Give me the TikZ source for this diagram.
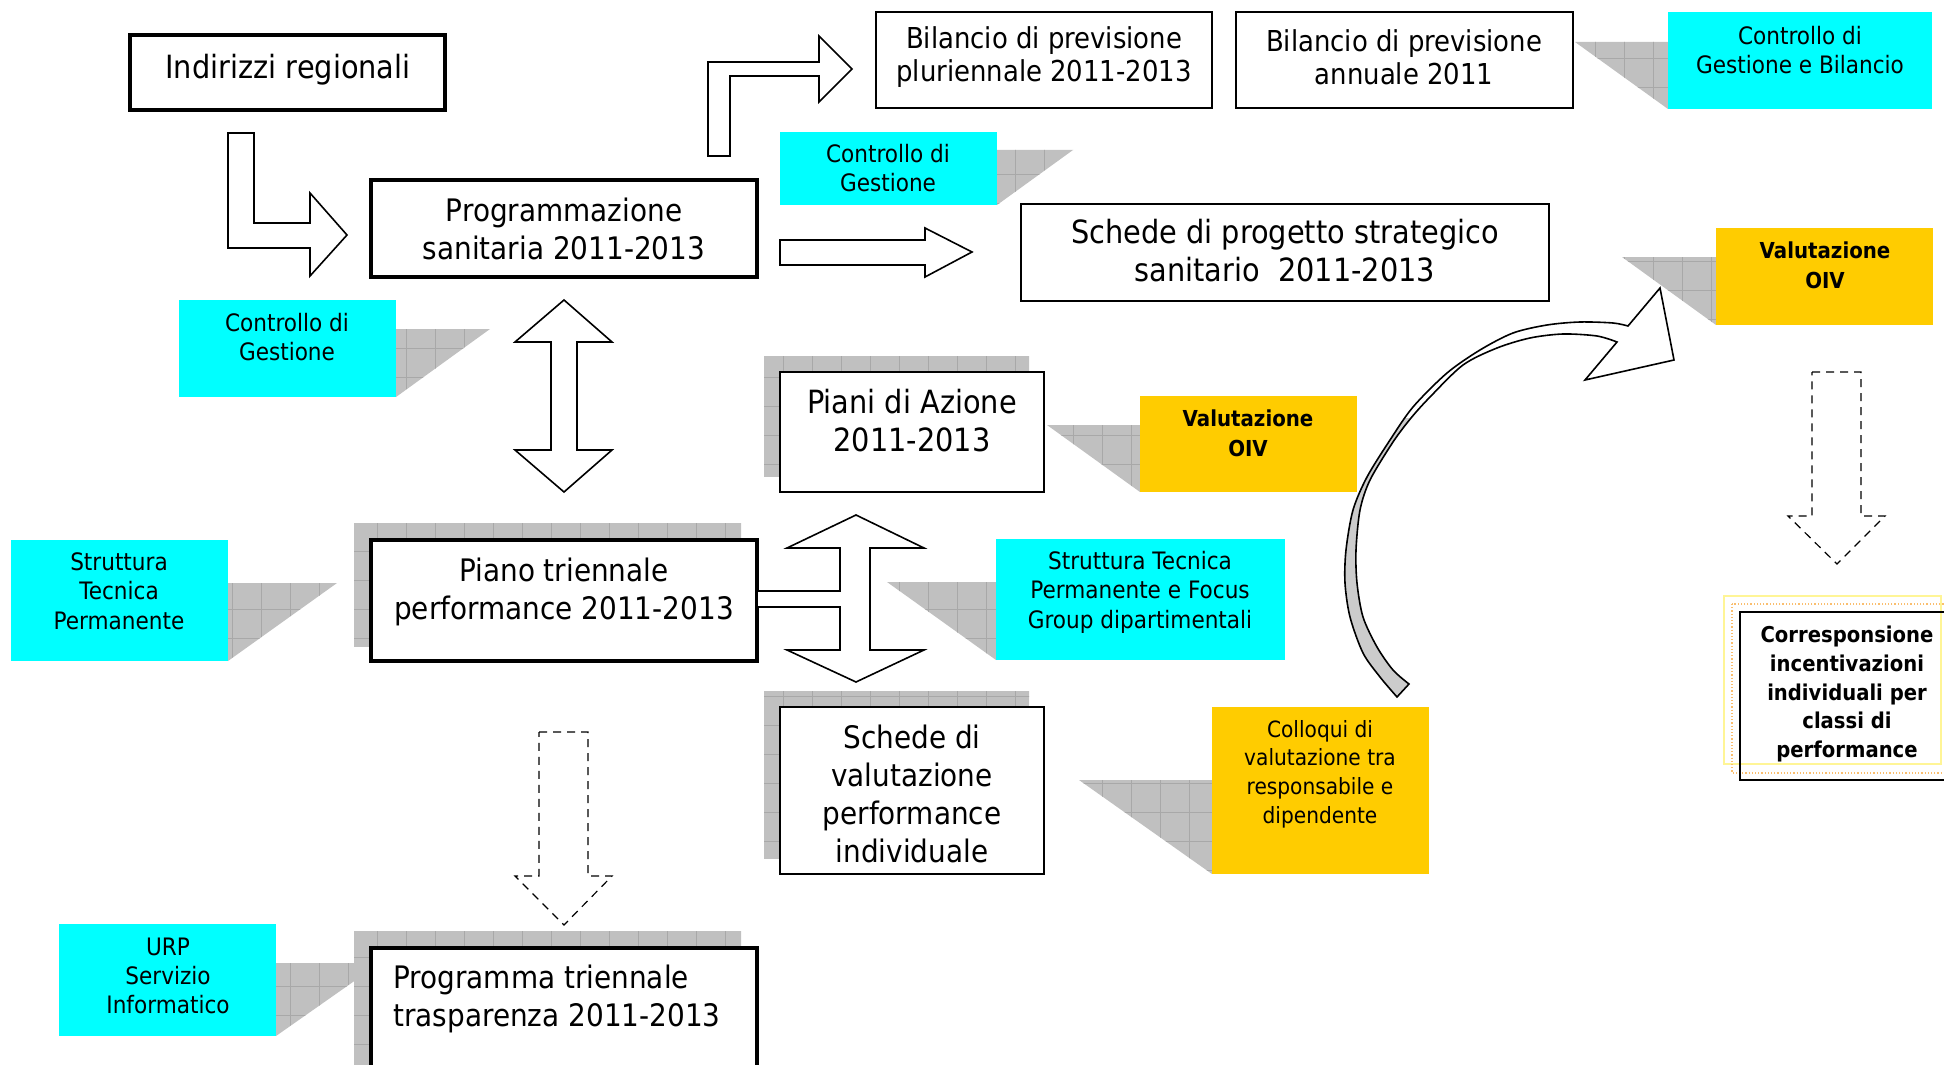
\documentclass[tikz,border=0pt]{standalone}
\usepackage{fontspec}
\setmainfont{DejaVu Sans}[FakeStretch=0.9]
\usetikzlibrary{fit}
\definecolor{cyanc}{RGB}{0,255,255}
\definecolor{goldc}{RGB}{255,204,0}
\definecolor{shcol}{RGB}{192,192,192}
\definecolor{shline}{RGB}{168,168,168}
\definecolor{arcgray}{RGB}{204,204,204}
\definecolor{frameyel}{RGB}{255,245,150}
\definecolor{frameora}{RGB}{250,190,110}
\newcommand\fsMain{\fontsize{15.5}{19}\selectfont}
\newcommand\fsBig{\fontsize{16}{19}\selectfont}
\newcommand\fsBil{\fontsize{14.4}{16.5}\selectfont}
\newcommand\fsSmall{\fontsize{12}{14.7}\selectfont}
\newcommand\fsCol{\fontsize{11.2}{14.3}\selectfont}
\newcommand\fsBold{\fontsize{11}{15}\selectfont\bfseries}
\newcommand\fsCorr{\fontsize{10.9}{14.3}\selectfont\bfseries}
\newcommand\shadowgrid[1]{%
  \begin{scope}
    \clip #1;
    \fill[shcol] (0,0) rectangle (1944,1065);
    \foreach \gx in {0,29,...,1944} \draw[shline, line width=0.35pt] (\gx,0) -- (\gx,1065);
    \foreach \gy in {0,29,...,1065} \draw[shline, line width=0.35pt] (0,\gy) -- (1944,\gy);
  \end{scope}}
\tikzset{
  boxthin/.style={draw=black, line width=1pt, fill=white, inner sep=0pt},
  boxthick/.style={draw=black, line width=1.6pt, fill=white, inner sep=0pt},
  boxheavy/.style={draw=black, line width=2.2pt, fill=white, inner sep=0pt},
  cyanbox/.style={fill=cyanc, inner sep=0pt},
  goldbox/.style={fill=goldc, inner sep=0pt},
  txt/.style={inner sep=0pt, align=center, text=black},
  blockarrow/.style={draw=black, line width=0.8pt, fill=white, line join=miter},
  dasharrow/.style={draw=black, line width=0.6pt, dash pattern=on 4pt off 3pt, fill=white}
}
\begin{document}
\begin{tikzpicture}[x=0.5pt, y=-0.5pt]
\clip (0,0) rectangle (1944,1065);
\fill[white] (0,0) rectangle (1944,1065);

% rectangular shadows
\shadowgrid{(764,356) rectangle (1029,476)}
\shadowgrid{(354,523) rectangle (741,646)}
\shadowgrid{(764,691) rectangle (1029,858)}
\shadowgrid{(354,931) rectangle (741,1075)}

% callout shadows
\shadowgrid{(396,329) -- (490,329) -- (396,397) -- cycle}
\shadowgrid{(997,150) -- (1073,150) -- (997,205) -- cycle}
\shadowgrid{(1668,42) -- (1575,42) -- (1668,109) -- cycle}
\shadowgrid{(1716,257) -- (1622,257) -- (1716,325) -- cycle}
\shadowgrid{(1140,425) -- (1047,425) -- (1140,492) -- cycle}
\shadowgrid{(228,583) -- (337,583) -- (228,661) -- cycle}
\shadowgrid{(996,582) -- (887,582) -- (996,660) -- cycle}
\shadowgrid{(276,963) -- (380,963) -- (276,1036) -- cycle}
\shadowgrid{(1212,780) -- (1079,780) -- (1212,874) -- cycle}

% boxes
\node[boxheavy, fit={(130,35)(445,110)}] (ind) {};
\node[boxthick, fit={(371,180)(757,277)}] (prog) {};
\node[boxthin, fit={(876,12)(1212,108)}] (bilP) {};
\node[boxthin, fit={(1236,12)(1573,108)}] (bilA) {};
\node[boxthin, fit={(1021,204)(1549,301)}] (sps) {};
\node[boxthin, fit={(780,372)(1044,492)}] (piani) {};
\node[boxthick, fit={(371,540)(757,661)}] (ptp) {};
\node[boxthin, fit={(780,707)(1044,874)}] (sv) {};
\node[boxthick, fit={(371,948)(757,1080)}] (ptt) {};

% coloured boxes
\node[cyanbox, fit={(1668,12)(1932,109)}] (cgb) {};
\node[cyanbox, fit={(780,132)(997,205)}] (cgm) {};
\node[cyanbox, fit={(179,300)(396,397)}] (cgl) {};
\node[goldbox, fit={(1716,228)(1933,325)}] (voT) {};
\node[goldbox, fit={(1140,396)(1357,492)}] (voM) {};
\node[cyanbox, fit={(11,540)(228,661)}] (stp) {};
\node[cyanbox, fit={(996,539)(1285,660)}] (stpf) {};
\node[goldbox, fit={(1212,707)(1429,874)}] (col) {};
\node[cyanbox, fit={(59,924)(276,1036)}] (urp) {};

% Corresponsione frames
\draw[frameyel, line width=0.6pt] (1724,596) rectangle (1941,764);
\draw[frameora, line width=0.6pt, densely dotted] (1732,604) rectangle (1960,773);
\node[draw=black, line width=1pt, fill=none, inner sep=0pt, fit={(1740,612)(1960,780)}] (corr) {};

% block arrows
\draw[blockarrow] (228,133) -- (254,133) -- (254,223) -- (310,223) -- (310,193) -- (347,235) -- (310,276) -- (310,248) -- (228,248) -- cycle;
\draw[blockarrow] (708,156) -- (708,62) -- (819,62) -- (819,36) -- (852,69) -- (819,102) -- (819,76) -- (730,76) -- (730,156) -- cycle;
\draw[blockarrow] (780,240) -- (925,240) -- (925,228) -- (972,252) -- (925,277) -- (925,265) -- (780,265) -- cycle;
\draw[blockarrow] (564,300) -- (612,342) -- (577,342) -- (577,450) -- (612,450) -- (564,492) -- (515,450) -- (551,450) -- (551,342) -- (515,342) -- cycle;
\draw[blockarrow] (856,515) -- (924,548) -- (870,548) -- (870,650) -- (924,650) -- (856,682) -- (787,650) -- (840,650) -- (840,607) -- (757,607) -- (757,591) -- (840,591) -- (840,548) -- (787,548) -- cycle;

% dashed arrows
\draw[dasharrow] (539,732) -- (588,732) -- (588,876) -- (612,876) -- (564,925) -- (515,876) -- (539,876) -- cycle;
\draw[dasharrow] (1812,372) -- (1861,372) -- (1861,516) -- (1885,516) -- (1837,564) -- (1788,516) -- (1812,516) -- cycle;

% curved arrow
\def\curvepath{(1397,697) -- plot[smooth, tension=0.5] coordinates {(1397,697) (1380,677) (1363,653) (1350,617) (1345,583) (1346,550) (1353,510) (1367,477) (1390,440) (1413,407) (1447,373) (1480,350) (1513,333) (1547,325) (1580,322) (1613,323) (1628,326)} -- (1660,288) -- (1674,360) -- (1585,380) -- (1617,342) -- plot[smooth, tension=0.5] coordinates {(1617,342) (1597,336) (1563,334) (1530,338) (1497,348) (1463,365) (1430,397) (1411,418) (1393,442) (1370,480) (1360,510) (1356,550) (1357,583) (1363,617) (1377,647) (1393,670) (1409,684)} -- cycle}
\fill[white] \curvepath;
\begin{scope}
  \clip (1300,418) rectangle (1500,720);
  \fill[arcgray] \curvepath;
\end{scope}
\draw[black, line width=0.8pt, line join=miter] \curvepath;

% texts
\node[txt, font=\fsBig] (indT) at (288,70) {Indirizzi regionali};
\node[txt, font=\fsMain] (progT) at (564,229) {Programmazione\\sanitaria 2011-2013};
\node[txt, font=\fsBil] (bilPT) at (1044,57) {Bilancio di previsione\\pluriennale 2011-2013};
\node[txt, font=\fsBil] (bilAT) at (1404,57) {Bilancio di previsione\\annuale 2011};
\node[txt, font=\fsSmall] (cgbT) at (1800,50) {Controllo di\\Gestione e Bilancio};
\node[txt, font=\fsSmall] (cgmT) at (888,168) {Controllo di\\Gestione};
\node[txt, font=\fsBig] (spsT) at (1285,251) {Schede di progetto strategico\\sanitario\ \ 2011-2013};
\node[txt, font=\fsSmall] (cglT) at (287,337) {Controllo di\\Gestione};
\node[txt, font=\fsBold] (voTT) at (1825,265) {Valutazione\\OIV};
\node[txt, font=\fsBig] (pianiT) at (912,421) {Piani di Azione\\2011-2013};
\node[txt, font=\fsBold] (voMT) at (1248,433) {Valutazione\\OIV};
\node[txt, font=\fsSmall] (stpT) at (119,591) {Struttura\\Tecnica\\Permanente};
\node[txt, font=\fsMain] (ptpT) at (564,592) {Piano triennale\\performance 2011-2013};
\node[txt, font=\fsSmall] (stpfT) at (1140,592) {Struttura Tecnica\\Permanente e Focus\\Group dipartimentali};
\node[txt, font=\fsMain] (svT) at (912,794) {Schede di\\valutazione\\performance\\individuale};
\node[txt, font=\fsCol] (colT) at (1320,774) {Colloqui di\\valutazione tra\\responsabile e\\dipendente};
\node[txt, font=\fsSmall] (urpT) at (168,976) {URP\\Servizio\\Informatico};
\node[txt, font=\fsMain, align=left, anchor=west] (pttT) at (393,999) {Programma triennale\\trasparenza 2011-2013};
\node[txt, font=\fsCorr] (corrT) at (1847,694) {Corresponsione\\incentivazioni\\individuali per\\classi di\\performance};
\end{tikzpicture}
\end{document}
